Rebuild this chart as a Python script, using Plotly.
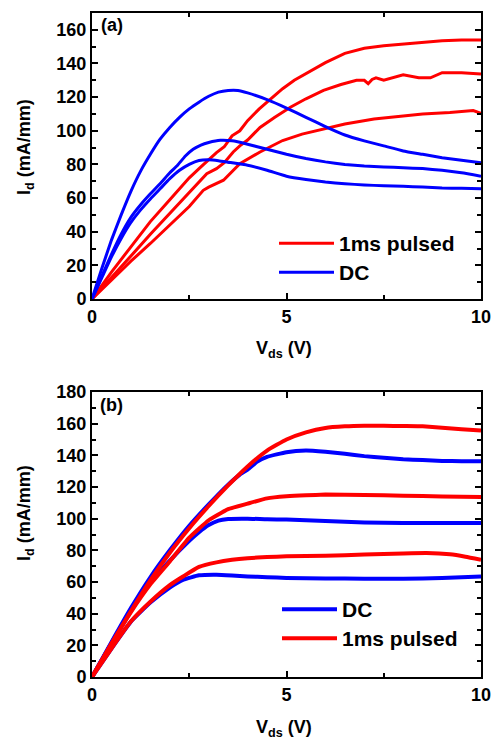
import plotly.graph_objects as go

# ---------------- Panel (a) data ----------------
va_dc1 = [0, 0.25, 0.5, 0.75, 1.0, 1.25, 1.5, 1.75, 2.0, 2.25, 2.5, 2.75, 3.0, 3.25, 3.5, 3.75, 4.0, 4.5, 5.0, 5.5, 6.0, 6.5, 7.0, 7.5, 8.0, 8.5, 9.0, 9.5, 10.0]
ia_dc1 = [0, 18, 35, 50, 64, 76, 86, 95, 102, 108, 113, 117, 120.5, 123, 124, 124, 122.5, 118.5, 113.5, 108, 102.5, 97.5, 94, 91, 88, 86, 84, 82.5, 81]

va_dc2 = [0, 0.25, 0.5, 0.75, 1.0, 1.25, 1.5, 1.75, 2.0, 2.2, 2.4, 2.6, 2.8, 3.0, 3.3, 3.6, 4.0, 4.5, 5.0, 5.5, 6.0, 6.5, 7.0, 7.5, 8.0, 8.5, 9.0, 9.5, 10.0]
ia_dc2 = [0, 13.5, 26.5, 38.5, 48.5, 56, 62.5, 68.5, 75, 79.5, 85, 89, 91.5, 93, 94.3, 94, 92, 89, 86, 83.5, 81.5, 80, 79, 78.5, 78, 77.5, 76.5, 75, 73]

va_dc3 = [0, 0.25, 0.5, 0.75, 1.0, 1.25, 1.5, 1.75, 2.0, 2.25, 2.5, 2.75, 3.0, 3.25, 3.5, 4.0, 4.5, 5.0, 5.5, 6.0, 6.5, 7.0, 7.5, 8.0, 8.5, 9.0, 9.5, 10.0]
ia_dc3 = [0, 12.5, 25, 36, 45.5, 53, 59.5, 65.5, 71.5, 76.5, 80, 82.3, 82.7, 82.2, 81.3, 79.5, 76.5, 73, 71, 69.5, 68.5, 67.8, 67.3, 67, 66.5, 66, 65.8, 65.6]

va_p1 = [0, 0.5, 1.0, 1.5, 2.0, 2.5, 2.8, 3.0, 3.2, 3.4, 3.6, 3.8, 4.0, 4.3, 4.6, 4.9, 5.2, 5.5, 6.0, 6.5, 7.0, 7.5, 8.0, 8.5, 9.0, 9.5, 10.0]
ia_p1 = [0, 16, 31, 46, 59, 72, 78.5, 83, 87, 90.5, 97, 100, 106, 113, 119, 125, 130, 134, 140.5, 146, 149, 150.5, 151.5, 152.5, 153.5, 154, 154]

va_p2 = [0, 0.5, 1.0, 1.5, 2.0, 2.5, 2.8, 2.95, 3.2, 3.4, 3.63, 3.8, 4.0, 4.32, 4.7, 5.1, 5.5, 5.95, 6.4, 6.8, 7.0, 7.1, 7.2, 7.3, 7.5, 8.0, 8.4, 8.7, 9.0, 9.5, 10.0]
ia_p2 = [0, 12.5, 25.5, 38.5, 51, 63, 71, 74.5, 77.5, 81, 87.4, 91, 94.5, 102, 108, 114, 119, 124, 127.5, 130, 130, 128, 130.5, 131.5, 130, 133.3, 131.5, 131.5, 134.5, 134.5, 133.7]

va_p3 = [0, 0.5, 1.0, 1.5, 2.0, 2.5, 2.86, 3.0, 3.38, 3.8, 4.32, 4.9, 5.4, 5.95, 6.5, 7.25, 8.0, 8.5, 9.2, 9.8, 10.0]
ia_p3 = [0, 11.5, 22.5, 33, 44, 55, 64.6, 66.5, 70.6, 80.4, 87.4, 94.2, 98, 101.1, 104, 107, 109, 110, 110.8, 112, 110.4]

# ---------------- Panel (b) data ----------------
vb_dc1 = [0, 0.5, 1.0, 1.5, 2.0, 2.5, 3.0, 3.5, 3.8, 4.0, 4.25, 4.5, 5.0, 5.5, 6.0, 6.5, 7.0, 7.5, 8.0, 8.5, 9.0, 9.5, 10.0]
ib_dc1 = [0, 22, 43.5, 63, 80, 95.5, 109, 121.5, 127.8, 131, 136, 139, 142, 143, 142.2, 141, 139.5, 138.5, 137.5, 137, 136.5, 136.3, 136.2]

vb_p1 = [0, 0.5, 1.0, 1.5, 2.0, 2.5, 3.0, 3.5, 4.0, 4.5, 5.0, 5.5, 6.0, 6.5, 7.0, 7.5, 8.0, 8.5, 9.0, 9.5, 10.0]
ib_p1 = [0, 21, 41.5, 61, 78.5, 94, 108, 121, 133, 143, 150, 154.5, 157.3, 158.3, 158.7, 158.7, 158.5, 158.3, 157.5, 156.5, 155.6]

vb_dc2 = [0, 0.5, 1.0, 1.5, 2.0, 2.5, 2.75, 3.0, 3.25, 3.5, 4.0, 4.5, 5.0, 6.0, 7.0, 8.0, 9.0, 10.0]
ib_dc2 = [0, 21.5, 42, 59.5, 73.5, 86, 91.5, 96, 98.8, 99.8, 100, 99.6, 99.4, 98.5, 97.6, 97.3, 97.2, 97.3]

vb_p2 = [0, 0.5, 1.0, 1.5, 2.0, 2.5, 3.0, 3.5, 4.0, 4.5, 5.0, 5.5, 6.0, 7.0, 8.0, 9.0, 10.0]
ib_p2 = [0, 21, 41, 58.5, 73, 88, 99, 106, 109.5, 112.8, 114.1, 114.8, 115.2, 115, 114.5, 114, 113.7]

vb_dc3 = [0, 0.5, 1.0, 1.5, 2.0, 2.35, 2.75, 3.2, 3.6, 4.0, 4.5, 5.0, 6.0, 7.0, 8.0, 9.0, 10.0]
ib_dc3 = [0, 18, 35, 47, 56.5, 61.5, 64.2, 64.6, 64.1, 63.5, 63, 62.6, 62.2, 62.1, 62.1, 62.5, 63.5]

vb_p3 = [0, 0.5, 1.0, 1.5, 2.0, 2.35, 2.75, 3.2, 3.6, 4.0, 4.5, 5.0, 6.0, 7.0, 8.0, 8.6, 9.2, 9.6, 10.0]
ib_p3 = [0, 18, 35, 47.5, 58, 63.6, 69.5, 72.4, 74, 75, 75.8, 76.2, 76.6, 77.3, 78, 78.3, 77.5, 76, 74.1]

x_ticks = [0, 5, 10]
ya_ticks = list(range(0, 161, 20))
yb_ticks = list(range(0, 181, 20))

RED = "#FF0000"
BLUE = "#0000FF"
FONT = "Liberation Sans"

fig = go.Figure()

def add(x, y, color, name, show, xa, ya, legend, width, shape="spline"):
    line = dict(color=color, width=width, shape=shape)
    if shape == "spline":
        line["smoothing"] = 0.4
    fig.add_trace(go.Scatter(
        x=x, y=y, mode="lines", name=name, showlegend=show,
        line=line, xaxis=xa, yaxis=ya, legend=legend))

# panel a (legend order: 1ms pulsed, DC)
add(va_p1, ia_p1, RED, "1ms pulsed", True, "x", "y", "legend", 3, "linear")
add(va_p2, ia_p2, RED, "1ms pulsed", False, "x", "y", "legend", 3, "linear")
add(va_p3, ia_p3, RED, "1ms pulsed", False, "x", "y", "legend", 3, "linear")
add(va_dc1, ia_dc1, BLUE, "DC", True, "x", "y", "legend2", 3)
add(va_dc2, ia_dc2, BLUE, "DC", False, "x", "y", "legend2", 3)
add(va_dc3, ia_dc3, BLUE, "DC", False, "x", "y", "legend2", 3)

# panel b (legend order: DC, 1ms pulsed)
add(vb_dc1, ib_dc1, BLUE, "DC", True, "x2", "y2", "legend3", 4)
add(vb_dc2, ib_dc2, BLUE, "DC", False, "x2", "y2", "legend3", 4)
add(vb_dc3, ib_dc3, BLUE, "DC", False, "x2", "y2", "legend3", 4)
add(vb_p1, ib_p1, RED, "1ms pulsed", True, "x2", "y2", "legend4", 4)
add(vb_p2, ib_p2, RED, "1ms pulsed", False, "x2", "y2", "legend4", 4)
add(vb_p3, ib_p3, RED, "1ms pulsed", False, "x2", "y2", "legend4", 4)

W, H = 491, 741
xdom = [92 / W, 481 / W]
ya_dom = [1 - 299 / H, 1 - 13 / H]
yb_dom = [1 - 677 / H, 1 - 392 / H]

tickfont = dict(family=FONT, size=18, color="black", weight="bold")

def xaxis(anchor):
    return dict(domain=xdom, anchor=anchor, range=[0, 10], tickvals=x_ticks,
                ticktext=[str(v) for v in x_ticks],
                showline=True, linecolor="black", linewidth=2, mirror="ticks",
                ticks="inside", ticklen=6, tickwidth=1.5, tickcolor="black",
                minor=dict(dtick=2.5, ticks="inside", ticklen=4, tickwidth=1.5, tickcolor="black"),
                showgrid=False, zeroline=False, tickfont=tickfont, automargin=False,
                ticklabeloverflow="allow")

def yaxis(anchor, dom, rmax, tv):
    return dict(domain=dom, anchor=anchor, range=[0, rmax], tickvals=tv,
                showline=True, linecolor="black", linewidth=2, mirror="ticks",
                ticks="inside", ticklen=6, tickwidth=1.5, tickcolor="black",
                minor=dict(dtick=10, ticks="inside", ticklen=4, tickwidth=1.5, tickcolor="black"),
                showgrid=False, zeroline=False, tickfont=tickfont, automargin=False,
                ticklabeloverflow="allow")

legfont = dict(family=FONT, size=21, color="black", weight="bold")

def leg(xpx, ytop):
    return dict(x=xpx / W, y=1 - ytop / H, xanchor="left", yanchor="top",
                font=legfont, bgcolor="rgba(0,0,0,0)", itemwidth=55,
                tracegroupgap=0)

fig.update_layout(
    width=W, height=H,
    margin=dict(l=0, r=0, t=0, b=0, autoexpand=False),
    paper_bgcolor="white", plot_bgcolor="white",
    xaxis=xaxis("y"), yaxis=yaxis("x", ya_dom, 170, ya_ticks),
    xaxis2=xaxis("y2"), yaxis2=yaxis("x2", yb_dom, 180, yb_ticks),
    legend=leg(274, 223),
    legend2=leg(274, 252),
    legend3=leg(277, 589),
    legend4=leg(277, 618),
    showlegend=True,
)

title_font = dict(family=FONT, size=18, color="black", weight="bold")
ann = [
    dict(text="I<sub>d</sub> (mA/mm)", x=25 / W, y=1 - 147 / H, textangle=-90),
    dict(text="I<sub>d</sub> (mA/mm)", x=25 / W, y=1 - 513 / H, textangle=-90),
    dict(text="V<sub>ds</sub> (V)", x=284 / W, y=1 - 349 / H),
    dict(text="V<sub>ds</sub> (V)", x=284 / W, y=1 - 728 / H),
]
for a in ann:
    fig.add_annotation(xref="paper", yref="paper", xanchor="center", yanchor="middle",
                       showarrow=False, font=title_font, **a)

fig.add_annotation(text="(a)", xref="paper", yref="paper", x=99 / W, y=1 - 25 / H,
                   xanchor="left", yanchor="middle", showarrow=False, font=title_font)
fig.add_annotation(text="(b)", xref="paper", yref="paper", x=98 / W, y=1 - 405 / H,
                   xanchor="left", yanchor="middle", showarrow=False, font=title_font)

fig.write_html("out.html", config={"displayModeBar": False},
               post_script="document.body.style.margin='0';document.body.style.overflow='hidden';")
